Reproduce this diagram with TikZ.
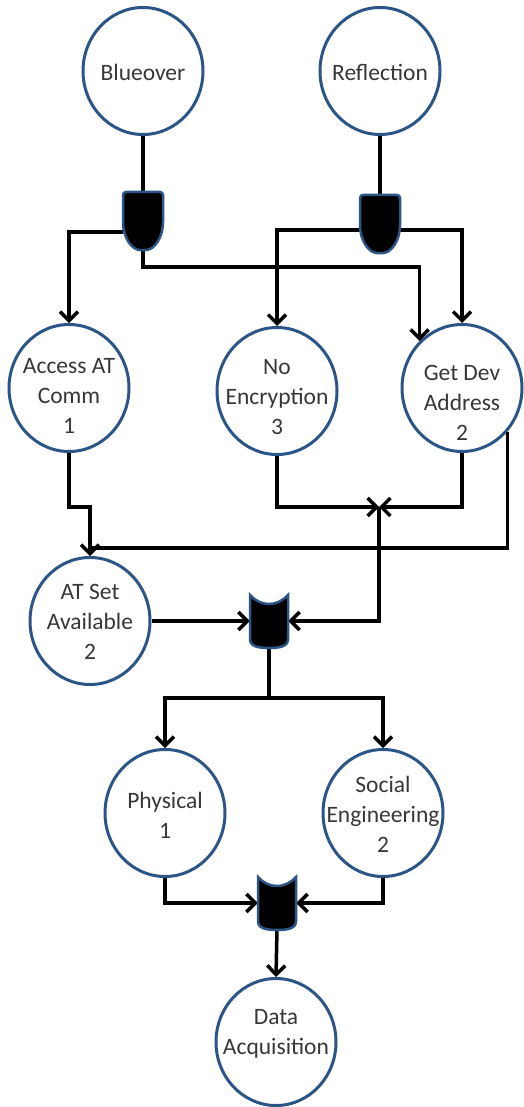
\documentclass[tikz,border=0pt]{standalone}
\usepackage{fontspec}
\setmainfont{Carlito}
\usetikzlibrary{shapes.geometric,arrows.meta,calc}
\definecolor{cblue}{RGB}{44,85,135}
\definecolor{tgray}{RGB}{55,55,55}
\tikzset{
  circ/.style={ellipse,draw=cblue,line width=3pt,minimum width=120pt,minimum height=127pt,inner sep=0pt,fill=white},
  txt/.style={align=center,text=tgray,inner sep=0pt,font=\fontsize{23.5}{30}\selectfont},
  gatebox/.style={rectangle,draw=none,inner sep=0pt,minimum width=#1},
  gatefill/.style={fill=black,draw=cblue,line width=2.5pt},
  wire/.style={line width=3.5pt,line join=miter},
  arr/.style={wire,-{Straight Barb[length=9pt,width=18pt]}},
  andgate/.pic={
    \path[gatefill,rounded corners=3pt] (-20,-29) -- (20,-29) -- (20,-2) .. controls (20,17) and (11,29) .. (0,29) .. controls (-11,29) and (-20,17) .. (-20,-2) -- cycle;
  },
  orgate/.pic={
    \path[gatefill] (-19,-26) .. controls (-8,-14) and (8,-14) .. (19,-26) -- (19,18) .. controls (19,25) and (12,27) .. (0,27) .. controls (-12,27) and (-19,25) .. (-19,18) -- cycle;
  }
}
\begin{document}
\begin{tikzpicture}[x=1pt,y=-1pt]
\useasboundingbox (0,0) rectangle (523,1107);
% circles
\node[circ] (blue) at (143,71) {};
\node[txt] at ($(blue)+(0,1)$) {Blueover};
\node[circ] (refl) at (380,71) {};
\node[txt] at ($(refl)+(0,1)$) {Reflection};
\node[circ] (acc) at (69,388) {};
\node[txt] at ($(acc)+(0,8)$) {Access AT\\Comm\\1};
\node[circ] (noenc) at (277,391) {};
\node[txt] at ($(noenc)+(0,6)$) {No\\Encryption\\3};
\node[circ] (getdev) at (462,388) {};
\node[txt] at ($(getdev)+(0,15)$) {Get Dev\\Address\\2};
\node[circ] (atset) at (90,621) {};
\node[txt] at ($(atset)+(0,1)$) {AT Set\\Available\\2};
\node[circ] (phys) at (165,813) {};
\node[txt] at ($(phys)+(0,2)$) {Physical\\1};
\node[circ] (social) at (383,813) {};
\node[txt] at ($(social)+(0,1)$) {Social\\Engineering\\2};
\node[circ] (data) at (276,1042) {};
\node[txt] at ($(data)+(0,-8)$) {Data\\Acquisition};
% gates
\node[gatebox=40pt,minimum height=58pt] (g1) at (143,221) {};
\node[gatebox=40pt,minimum height=58pt] (g2) at (380,224) {};
\node[gatebox=38pt,minimum height=52pt] (g3) at (269,621) {};
\node[gatebox=38pt,minimum height=52pt] (g4) at (277,903) {};
\coordinate (j1) at (90,548);
\coordinate (j2) at (379,507);
% wires
\draw[wire] (blue) -- (g1.north);
\draw[wire] (refl) -- (g2.north);
\draw[arr] ($(g1.west)+(0,11)$) -| (acc.north);
\draw[arr] (g1.south) -- ++(0,17) -| (getdev.132);
\draw[arr] ($(g2.west)+(0,6)$) -| (noenc.north);
\draw[arr] ($(g2.east)+(0,6)$) -| (getdev.north);
\draw[arr] (acc.south) -- (acc.south |- j2) -| (atset.north);
\draw[wire] (getdev.-44) |- (j1);
\draw[arr] (noenc.south) |- (j2);
\draw[arr] (getdev.south) |- (j2);
\draw[arr] (j2) |- (g3.east);
\draw[arr] (atset.east) -- (g3.west);
\draw[arr] (g3.south) -- ++(0,51) -| (phys.north);
\draw[arr] (g3.south) -- ++(0,51) -| (social.north);
\draw[arr] (phys.south) |- (g4.west);
\draw[arr] (social.south) |- (g4.east);
\draw[arr] (g4.south) -- (data.north);
% gate shapes
\pic at (g1) {andgate};
\pic at (g2) {andgate};
\pic at (g3) {orgate};
\pic at (g4) {orgate};
\end{tikzpicture}
\end{document}
